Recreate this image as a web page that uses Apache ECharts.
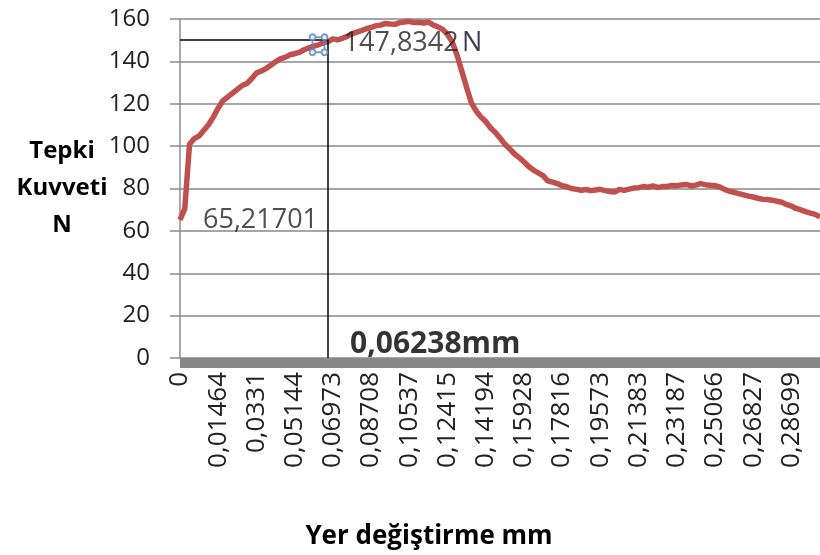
<!DOCTYPE html>
<html>
<head>
<meta charset="utf-8">
<title>Tepki Kuvveti - Yer değiştirme</title>
<script src="https://cdn.jsdelivr.net/npm/echarts@6/dist/echarts.min.js"></script>
<style>
  html, body { margin: 0; padding: 0; background: #ffffff; }
  #chart { width: 820px; height: 555px; }
</style>
</head>
<body>
<div id="chart"></div>
<script>
// Displacement (mm) for each sample; every 8th one is printed on the axis
const displacement = [
  '0', '0,00183', '0,00366', '0,00549', '0,00732', '0,00915', '0,01098', '0,01281',
  '0,01464', '0,01695', '0,01926', '0,02157', '0,02387', '0,02618', '0,02849', '0,03080',
  '0,0331', '0,03539', '0,03768', '0,03998', '0,04227', '0,04456', '0,04685', '0,04915',
  '0,05144', '0,05300', '0,05457', '0,05613', '0,05769', '0,05926', '0,06082', '0,06238',
  '0,06973', '0,07190', '0,07407', '0,07623', '0,07840', '0,08057', '0,08274', '0,08491',
  '0,08708', '0,08937', '0,09165', '0,09394', '0,09623', '0,09851', '0,10080', '0,10308',
  '0,10537', '0,10772', '0,11007', '0,11241', '0,11476', '0,11711', '0,11946', '0,12180',
  '0,12415', '0,12637', '0,12860', '0,13082', '0,13305', '0,13527', '0,13749', '0,13972',
  '0,14194', '0,14411', '0,14628', '0,14845', '0,15061', '0,15278', '0,15495', '0,15711',
  '0,15928', '0,16164', '0,16400', '0,16636', '0,16872', '0,17108', '0,17344', '0,17580',
  '0,17816', '0,18036', '0,18255', '0,18475', '0,18695', '0,18914', '0,19134', '0,19353',
  '0,19573', '0,19799', '0,20025', '0,20252', '0,20478', '0,20704', '0,20930', '0,21157',
  '0,21383', '0,21609', '0,21834', '0,22060', '0,22285', '0,22511', '0,22736', '0,22962',
  '0,23187', '0,23422', '0,23657', '0,23892', '0,24127', '0,24361', '0,24596', '0,24831',
  '0,25066', '0,25286', '0,25506', '0,25726', '0,25946', '0,26167', '0,26387', '0,26607',
  '0,26827', '0,27061', '0,27295', '0,27529', '0,27763', '0,27997', '0,28231', '0,28465',
  '0,28699', '0,28933', '0,29167', '0,29401', '0,29635', '0,29869', '0,30103'
];

// Reaction force (N) measured at each displacement
const reactionForce = [
  65.21701, 70.5, 101.0, 103.5, 104.8, 107.5, 110.2, 113.8,
  118.0, 121.5, 123.2, 125.0, 126.8, 128.6, 129.6, 131.8,
  134.5, 135.4, 136.6, 138.2, 139.8, 141.2, 141.9, 143.1,
  143.6, 144.3, 145.5, 146.4, 147.2, 147.8342, 148.7, 149.3,
  150.6, 150.2, 150.9, 151.8, 153.0, 153.8, 154.5, 155.4,
  156.0, 156.8, 157.1, 157.9, 157.6, 157.5, 158.3, 158.6,
  158.9, 158.3, 158.5, 158.1, 158.6, 157.2, 156.3, 155.1,
  152.7, 149.2, 143.0, 135.4, 127.8, 120.4, 116.6, 113.8,
  111.6, 108.7, 106.5, 103.8, 101.0, 98.8, 96.4, 94.6,
  92.6, 90.4, 88.7, 87.4, 86.1, 83.6, 83.0, 82.3,
  81.3, 80.8, 80.0, 79.6, 79.2, 79.5, 79.0, 79.3,
  79.6, 79.0, 78.6, 78.3, 79.6, 79.1, 79.7, 80.2,
  80.4, 80.9, 80.6, 81.2, 80.5, 80.9, 81.0, 81.4,
  81.3, 81.7, 81.9, 81.2, 81.6, 82.3, 81.8, 81.5,
  81.3, 80.7, 79.6, 78.8, 78.2, 77.6, 77.0, 76.4,
  76.0, 75.4, 74.9, 74.8, 74.5, 74.0, 73.5, 72.5,
  71.7, 70.6, 69.9, 69.1, 68.4, 67.8, 66.6
];

// Force axis ticks
const forceTicks = { min: 0, max: 160, step: 20 };

// Highlighted reading on the curve and the guide lines drawn to it
const markedIndex = 29;          // point labelled with its force value
const guideIndex = 31;           // displacement the vertical guide sits on
const guideLevel = 150.3;        // height of the horizontal guide
const guideUnit = 'mm';
const forceUnit = 'N';

const FONT = "'Open Sans', 'Liberation Sans', sans-serif";
const TEXT = '#222222';
const fmt = v => String(v).replace('.', ',');

const chart = echarts.init(document.getElementById('chart'), null, { renderer: 'canvas' });

// selection-handle style marker: four small rings joined into a box
const handlePath = 'path://M0.5,3.5a3,3 0 1,0 6,0a3,3 0 1,0 -6,0Z' +
  'M12.5,3.5a3,3 0 1,0 6,0a3,3 0 1,0 -6,0Z' +
  'M0.5,18.5a3,3 0 1,0 6,0a3,3 0 1,0 -6,0Z' +
  'M12.5,18.5a3,3 0 1,0 6,0a3,3 0 1,0 -6,0Z' +
  'M6.5,3.5H12.5M6.5,18.5H12.5M3.5,6.5V15.5M15.5,6.5V15.5';

const option = {
  animation: false,
  backgroundColor: '#ffffff',
  grid: { left: 180, right: 0, top: 19, bottom: 197, containLabel: false },
  xAxis: {
    type: 'category',
    data: displacement,
    boundaryGap: false,
    offset: 5,
    axisLine: { show: true, onZero: false, lineStyle: { color: '#878787', width: 10, cap: 'butt' } },
    axisTick: { show: false },
    axisLabel: {
      interval: 7,
      rotate: 90,
      margin: 9,
      fontFamily: FONT,
      fontSize: 26,
      color: TEXT
    },
    splitLine: { show: false }
  },
  yAxis: {
    type: 'value',
    min: forceTicks.min,
    max: forceTicks.max,
    interval: forceTicks.step,
    axisLine: { show: true, lineStyle: { color: '#8c8c8c', width: 1.5 } },
    axisTick: { show: true, length: 10, lineStyle: { color: '#8c8c8c', width: 1.5 } },
    axisLabel: { margin: 30, fontFamily: FONT, fontSize: 24, color: TEXT },
    splitLine: { show: true, lineStyle: { color: '#a6a6a6', width: 2 } }
  },
  series: [
    {
      name: 'Tepki Kuvveti',
      type: 'line',
      data: reactionForce,
      showSymbol: false,
      symbol: 'none',
      lineStyle: { color: '#c0504d', width: 5.5 },
      itemStyle: { color: '#c0504d' },
      z: 3,
      markLine: {
        silent: true,
        symbol: 'none',
        label: { show: false },
        lineStyle: { color: '#000000', width: 1.5, type: 'solid' },
        data: [
          [{ coord: [displacement[0], guideLevel] }, { coord: [displacement[guideIndex], guideLevel] }],
          [{ coord: [displacement[guideIndex], guideLevel] }, { coord: [displacement[guideIndex], forceTicks.min] }]
        ]
      }
    },
    {
      // starting reading, labelled with its value
      name: 'start',
      type: 'scatter',
      data: [[displacement[0], reactionForce[0]]],
      symbolSize: 0,
      silent: true,
      z: 6,
      label: {
        show: true,
        position: [23, 0],
        align: 'left',
        verticalAlign: 'middle',
        formatter: p => fmt(p.value[1]),
        fontFamily: FONT,
        fontSize: 27,
        color: TEXT
      }
    },
    {
      name: 'marked',
      type: 'scatter',
      data: [[displacement[markedIndex], reactionForce[markedIndex]]],
      symbol: handlePath,
      symbolSize: [18, 21],
      itemStyle: { color: 'rgba(220,232,246,0.8)', borderColor: '#5383bd', borderWidth: 2 },
      z: 5,
      label: {
        show: true,
        position: [35, 10],
        align: 'left',
        verticalAlign: 'middle',
        formatter: p => '{v|' + fmt(p.value[1]) + '} {u|' + forceUnit + '}',
        rich: {
          v: { fontFamily: FONT, fontSize: 27, color: TEXT },
          u: { fontFamily: FONT, fontSize: 27, color: '#0d0d2a' }
        }
      }
    },
    {
      name: 'guide',
      type: 'scatter',
      data: [[displacement[guideIndex], forceTicks.min]],
      symbolSize: 0,
      silent: true,
      z: 6,
      label: {
        show: true,
        position: [22, -14],
        align: 'left',
        verticalAlign: 'middle',
        formatter: () => displacement[guideIndex] + guideUnit,
        fontFamily: FONT,
        fontSize: 30,
        fontWeight: 'bold',
        color: '#000000'
      }
    }
  ],
  graphic: [
    {
      type: 'text',
      x: 62,
      y: 133,
      style: {
        text: 'Tepki\nKuvveti\nN',
        align: 'center',
        verticalAlign: 'top',
        lineHeight: 37,
        fontFamily: FONT,
        fontSize: 24,
        fontWeight: 'bold',
        fill: '#000000'
      }
    },
    {
      type: 'text',
      x: 429,
      y: 537,
      style: {
        text: 'Yer değiştirme mm',
        align: 'center',
        verticalAlign: 'middle',
        fontFamily: FONT,
        fontSize: 26,
        fontWeight: 'bold',
        fill: '#000000'
      }
    }
  ]
};

chart.setOption(option);
</script>
</body>
</html>
